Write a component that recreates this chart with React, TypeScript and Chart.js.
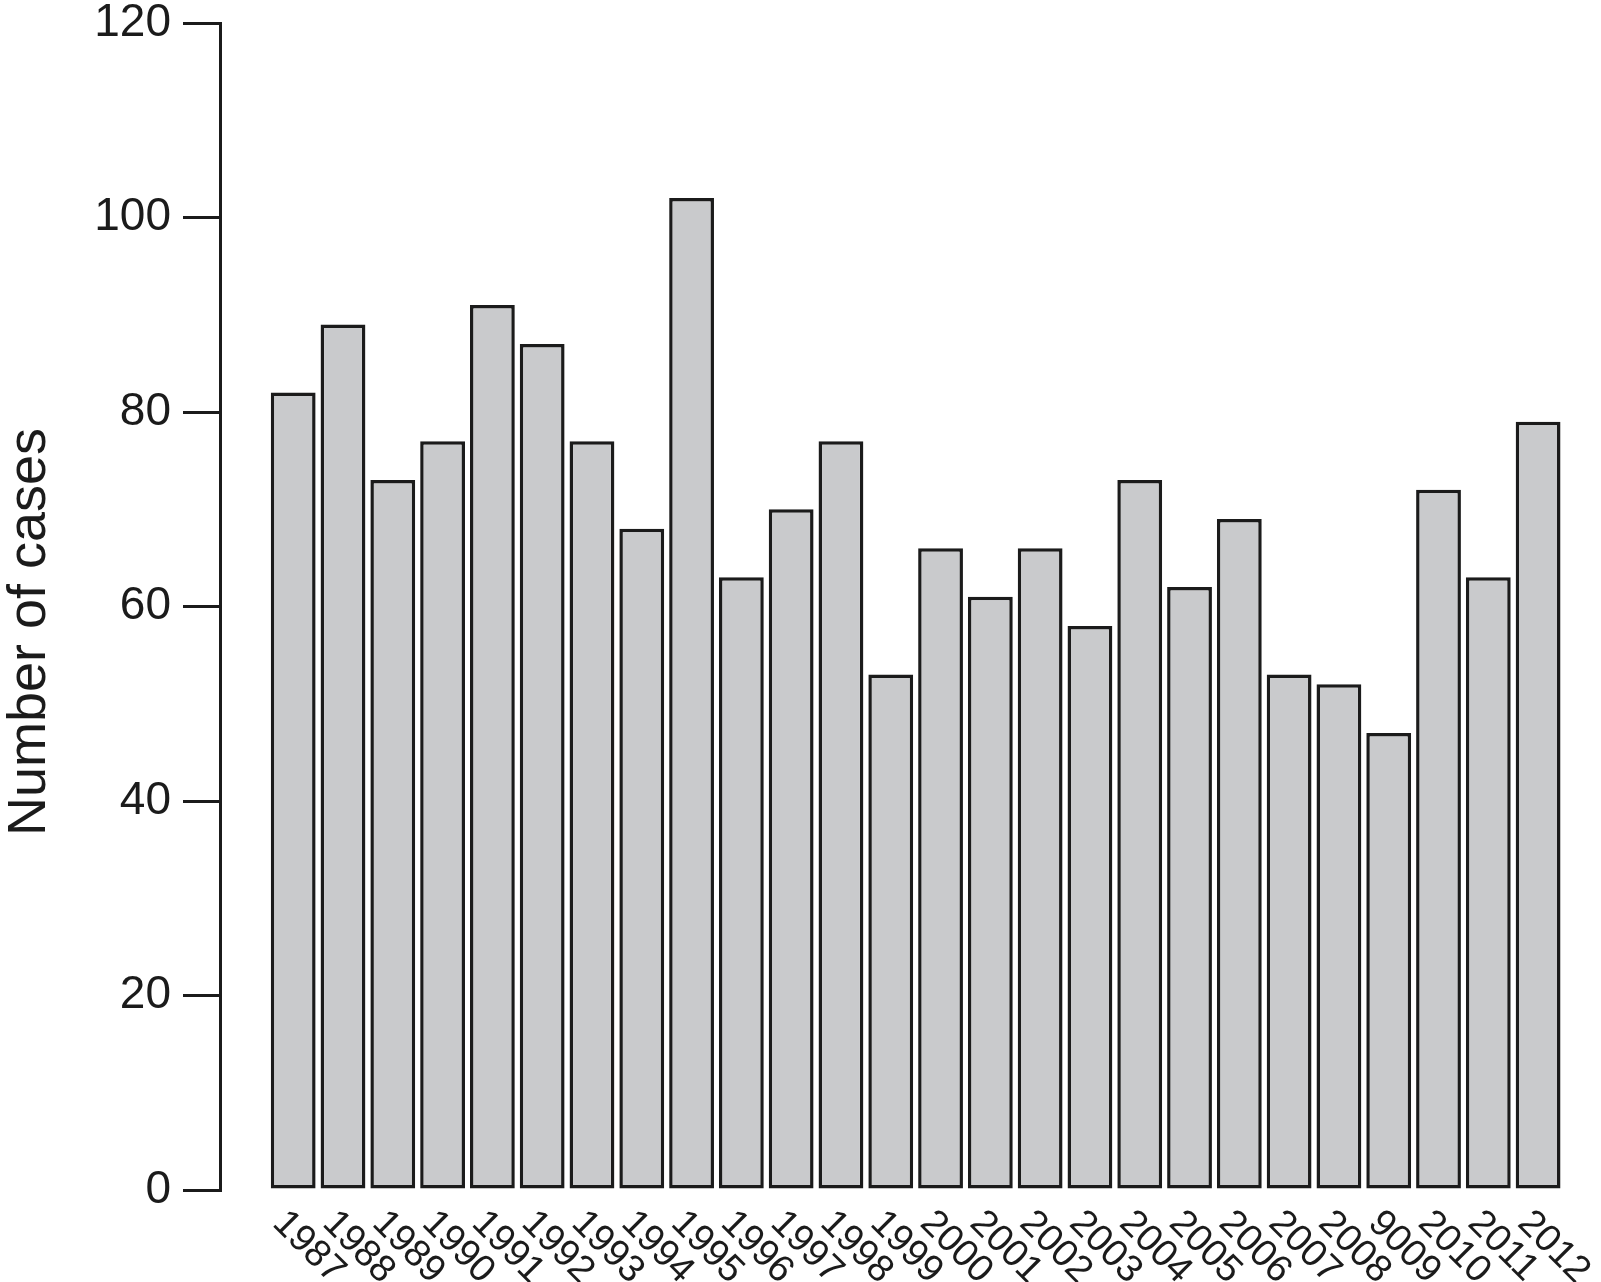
import React, { useEffect, useRef } from "react";
import { Chart, registerables } from "chart.js";

Chart.register(...registerables);

const years = [
  "1987", "1988", "1989", "1990", "1991", "1992", "1993", "1994", "1995",
  "1996", "1997", "1998", "1999", "2000", "2001", "2002", "2003", "2004",
  "2005", "2006", "2007", "2008", "9009", "2010", "2011", "2012",
];
const cases = [
  82, 89, 73, 77, 91, 87, 77, 68, 102, 63, 70, 77, 53, 66, 61, 66, 58, 73,
  62, 69, 53, 52, 47, 72, 63, 79,
];
const yTicks = [0, 20, 40, 60, 80, 100, 120];
const yTitle = "Number of cases";

const FONT = "'Liberation Sans', Arial, Helvetica, sans-serif";
const INK = "#1b1b1b";

const labelsPlugin = {
  id: "rLabels",
  afterDraw(chart: any) {
    const ctx = chart.ctx;
    const xs = chart.scales.x;
    const area = chart.chartArea;
    ctx.save();
    ctx.fillStyle = INK;
    ctx.font = `38px ${FONT}`;
    ctx.textAlign = "left";
    ctx.textBaseline = "top";
    years.forEach((lab, i) => {
      const px = xs.getPixelForValue(i);
      ctx.save();
      ctx.translate(px - 1, area.bottom + 14);
      ctx.rotate(Math.PI / 4);
      ctx.fillText(lab, 0, 0);
      ctx.restore();
    });
    // y axis title
    ctx.save();
    ctx.font = `54px ${FONT}`;
    ctx.textAlign = "center";
    ctx.textBaseline = "middle";
    ctx.translate(30, 632);
    ctx.rotate(-Math.PI / 2);
    ctx.fillText(yTitle, 0, 0);
    ctx.restore();
    ctx.restore();
  },
};

export default function App() {
  const ref = useRef<HTMLCanvasElement | null>(null);
  useEffect(() => {
    document.body.style.margin = "0";
    const canvas = ref.current;
    if (!canvas) return;
    const chart = new Chart(canvas, {
      type: "bar",
      data: {
        datasets: [
          {
            data: cases.map((v, i) => ({ x: i, y: v })),
            backgroundColor: "#c9cacc",
            borderColor: INK,
            borderWidth: 3.5,
            borderSkipped: false,
            barPercentage: 0.9,
            categoryPercentage: 1,
          },
        ],
      },
      options: {
        responsive: false,
        animation: false,
        maintainAspectRatio: false,
        layout: { padding: { top: 23, bottom: 92, right: 38, left: 0 } },
        plugins: {
          legend: { display: false },
          tooltip: { enabled: false },
        },
        scales: {
          x: {
            type: "linear",
            min: -1.47,
            max: 25.5,
            offset: false,
            grid: { offset: false, display: false },
            display: false,
          },
          y: {
            min: 0,
            max: 120,
            afterBuildTicks: (s: any) => {
              s.ticks = yTicks.map((v) => ({ value: v }));
            },
            afterFit: (s: any) => {
              s.width = 220;
              s.paddingTop = 0;
              s.paddingBottom = 0;
            },
            border: { display: true, color: INK, width: 3 },
            grid: {
              display: true,
              drawOnChartArea: false,
              drawTicks: true,
              tickLength: 37,
              color: INK,
              lineWidth: 3,
            },
            ticks: {
              color: INK,
              padding: 12,
              font: { family: FONT, size: 46, lineHeight: 1 },
            },
          },
        },
      },
      plugins: [labelsPlugin],
    });
    return () => chart.destroy();
  }, []);
  return (
    <div style={{ width: 1601, height: 1282, background: "#fff" }}>
      <canvas ref={ref} width={1601} height={1282} style={{ display: "block" }} />
    </div>
  );
}
